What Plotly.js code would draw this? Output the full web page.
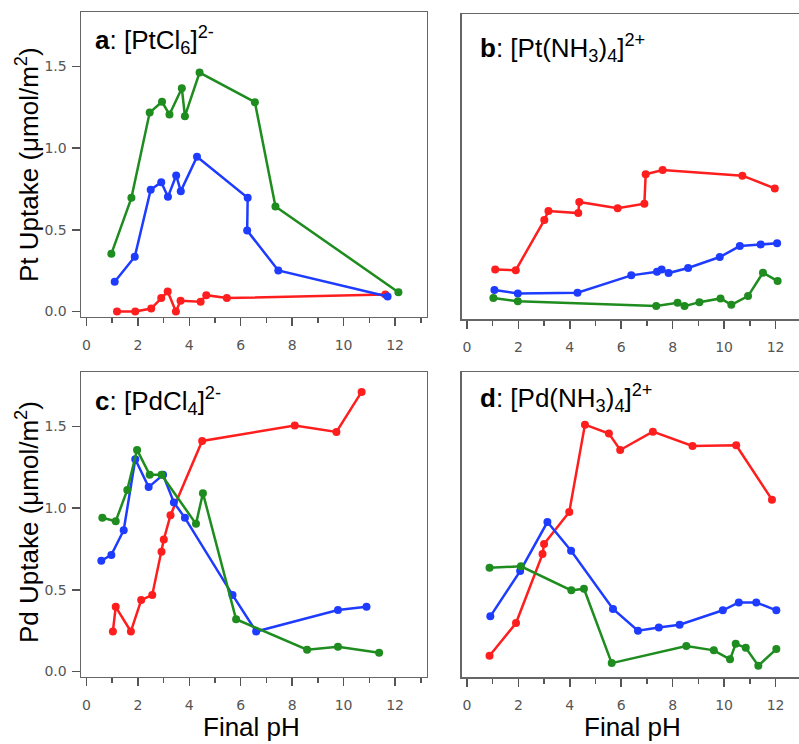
<!DOCTYPE html>
<html>
<head>
<meta charset="utf-8">
<script src="https://cdn.plot.ly/plotly-3.0.1.min.js"></script>
<style>
html, body { margin: 0; padding: 0; overflow: hidden; background: #fff; }
#chart { width: 840px; height: 744px; }
</style>
</head>
<body>
<div id="chart"></div>
<script>
// ---- Panel a: [PtCl6]2- ----
const a_green_x = [0.97, 1.75, 2.46, 2.94, 3.23, 3.71, 3.83, 4.40, 6.55, 7.35, 12.13];
const a_green_y = [0.353, 0.696, 1.218, 1.284, 1.206, 1.367, 1.196, 1.463, 1.282, 0.643, 0.118];
const a_blue_x = [1.10, 1.88, 2.50, 2.91, 3.17, 3.49, 3.67, 4.30, 6.27, 6.25, 7.46, 11.71];
const a_blue_y = [0.182, 0.335, 0.745, 0.792, 0.702, 0.833, 0.737, 0.947, 0.696, 0.496, 0.251, 0.092];
const a_red_x = [1.19, 1.90, 2.52, 2.91, 3.16, 3.48, 3.66, 4.44, 4.66, 5.46, 11.62];
const a_red_y = [0.0, 0.0, 0.018, 0.082, 0.122, 0.0, 0.065, 0.059, 0.100, 0.082, 0.104];

// ---- Panel b: [Pt(NH3)4]2+ ----
const b_red_x = [1.10, 1.90, 3.01, 3.17, 4.33, 4.37, 5.86, 6.90, 6.95, 7.61, 10.71, 11.97];
const b_red_y = [0.271, 0.267, 0.573, 0.629, 0.616, 0.684, 0.645, 0.673, 0.853, 0.880, 0.845, 0.767];
const b_blue_x = [1.07, 1.98, 4.30, 6.39, 7.39, 7.57, 7.84, 8.60, 9.83, 10.61, 11.42, 12.06];
const b_blue_y = [0.145, 0.124, 0.129, 0.235, 0.257, 0.271, 0.249, 0.280, 0.347, 0.414, 0.424, 0.431];
const b_green_x = [1.03, 1.98, 7.36, 8.19, 8.46, 9.04, 9.86, 10.28, 10.93, 11.51, 12.08];
const b_green_y = [0.096, 0.076, 0.047, 0.067, 0.047, 0.071, 0.094, 0.055, 0.108, 0.251, 0.200];

// ---- Panel c: [PdCl4]2- ----
const c_red_x = [1.03, 1.14, 1.73, 2.13, 2.56, 2.92, 3.01, 3.27, 4.50, 8.10, 9.72, 10.70];
const c_red_y = [0.245, 0.396, 0.245, 0.437, 0.469, 0.733, 0.808, 0.957, 1.412, 1.506, 1.467, 1.712];
const c_blue_x = [0.58, 0.97, 1.45, 1.90, 2.42, 2.98, 3.40, 3.83, 5.68, 6.60, 9.78, 10.89];
const c_blue_y = [0.678, 0.714, 0.865, 1.300, 1.129, 1.204, 1.035, 0.941, 0.469, 0.245, 0.376, 0.396];
const c_green_x = [0.62, 1.14, 1.59, 1.97, 2.46, 2.92, 4.26, 4.53, 5.82, 8.58, 9.78, 11.38];
const c_green_y = [0.941, 0.920, 1.112, 1.357, 1.204, 1.204, 0.904, 1.092, 0.320, 0.133, 0.151, 0.114];

// ---- Panel d: [Pd(NH3)4]2+ ----
const d_red_x = [0.88, 1.91, 2.94, 3.00, 3.98, 4.59, 5.52, 5.96, 7.23, 8.77, 10.47, 11.86];
const d_red_y = [0.098, 0.298, 0.720, 0.782, 0.978, 1.512, 1.457, 1.357, 1.469, 1.382, 1.386, 1.053];
const d_blue_x = [0.91, 2.07, 3.13, 4.05, 5.68, 6.65, 7.46, 8.27, 9.95, 10.57, 11.25, 12.03];
const d_blue_y = [0.339, 0.616, 0.916, 0.741, 0.384, 0.251, 0.271, 0.288, 0.376, 0.424, 0.424, 0.376];
const d_green_x = [0.88, 2.10, 4.06, 4.55, 5.63, 8.53, 9.60, 10.23, 10.45, 10.84, 11.33, 12.03];
const d_green_y = [0.637, 0.645, 0.498, 0.508, 0.053, 0.157, 0.131, 0.076, 0.171, 0.147, 0.037, 0.139];

const panelLabels = [
  '<b>a</b>: [PtCl<sub>6</sub>]<sup>2-</sup>',
  '<b>b</b>: [Pt(NH<sub>3</sub>)<sub>4</sub>]<sup>2+</sup>',
  '<b>c</b>: [PdCl<sub>4</sub>]<sup>2-</sup>',
  '<b>d</b>: [Pd(NH<sub>3</sub>)<sub>4</sub>]<sup>2+</sup>'
];
const yTitles = ['Pt Uptake (μmol/m<sup>2</sup>)', 'Pd Uptake (μmol/m<sup>2</sup>)'];
const xTitle = 'Final pH';

const RED = 'rgb(255,30,30)', BLUE = 'rgb(30,60,255)', GREEN = 'rgb(30,140,30)';

function tr(x, y, color, xa, ya) {
  return {x: x, y: y, xaxis: xa, yaxis: ya, type: 'scatter', mode: 'lines+markers',
    line: {color: color, width: 2.5}, marker: {color: color, size: 8}, showlegend: false, hoverinfo: 'x+y'};
}

const data = [
  tr(a_red_x, a_red_y, RED, 'x', 'y'),
  tr(a_blue_x, a_blue_y, BLUE, 'x', 'y'),
  tr(a_green_x, a_green_y, GREEN, 'x', 'y'),
  tr(b_red_x, b_red_y, RED, 'x2', 'y2'),
  tr(b_blue_x, b_blue_y, BLUE, 'x2', 'y2'),
  tr(b_green_x, b_green_y, GREEN, 'x2', 'y2'),
  tr(c_red_x, c_red_y, RED, 'x3', 'y3'),
  tr(c_blue_x, c_blue_y, BLUE, 'x3', 'y3'),
  tr(c_green_x, c_green_y, GREEN, 'x3', 'y3'),
  tr(d_red_x, d_red_y, RED, 'x4', 'y4'),
  tr(d_blue_x, d_blue_y, BLUE, 'x4', 'y4'),
  tr(d_green_x, d_green_y, GREEN, 'x4', 'y4')
];

const W = 840, H = 744;
const px = v => v / W;
const py = v => 1 - v / H;

const tickFont = {family: 'DejaVu Sans', size: 14, color: '#555'};
const XR = [-0.21, 13.23];
const YR = [-0.032, 1.834];

function xax(left, right, anchor) {
  return {domain: [px(left), px(right)], range: XR, anchor: anchor,
    showline: true, mirror: true, linecolor: '#666', linewidth: 1.5,
    showgrid: false, zeroline: false,
    ticks: 'outside', ticklen: 8, tickwidth: 1.5, tickcolor: '#555',
    tick0: 0, dtick: 2, tickfont: tickFont, ticklabelstandoff: 7,
    minor: {dtick: 1, tick0: 0, ticks: 'outside', ticklen: 5, tickwidth: 1.5, tickcolor: '#555'}};
}
function yax(top, bottom, anchor, labels) {
  return {domain: [py(bottom), py(top)], range: YR, anchor: anchor,
    showline: true, mirror: true, linecolor: '#666', linewidth: 1.5,
    showgrid: false, zeroline: false,
    ticks: labels ? 'outside' : '', ticklen: 8, tickwidth: 1.5, tickcolor: '#555',
    showticklabels: labels, tickvals: [0, 0.5, 1.0, 1.5], tickformat: '.1f',
    tickfont: tickFont, ticklabelstandoff: 2};
}

const labelFont = {family: 'Liberation Sans, Arial, sans-serif', size: 26, color: '#000'};
const titleFont = {family: 'Liberation Sans, Arial, sans-serif', size: 26, color: '#000'};

const annotations = [
  {text: panelLabels[0], x: px(93), y: py(20), xanchor: 'left', yanchor: 'top'},
  {text: panelLabels[1], x: px(478), y: py(28), xanchor: 'left', yanchor: 'top'},
  {text: panelLabels[2], x: px(93), y: py(381), xanchor: 'left', yanchor: 'top'},
  {text: panelLabels[3], x: px(478), y: py(378), xanchor: 'left', yanchor: 'top'}
].map(a => Object.assign(a, {xref: 'paper', yref: 'paper', showarrow: false, font: labelFont}));

annotations.push(
  {text: yTitles[0], x: px(27), y: py(165), textangle: -90},
  {text: yTitles[1], x: px(27), y: py(522), textangle: -90},
  {text: xTitle, x: px(251), y: py(727)},
  {text: xTitle, x: px(632), y: py(727)}
);
for (let i = 4; i < annotations.length; i++) {
  Object.assign(annotations[i], {xref: 'paper', yref: 'paper', showarrow: false,
    xanchor: 'center', yanchor: 'middle', font: titleFont});
}

const layout = {
  width: W, height: H,
  margin: {l: 0, r: 0, t: 0, b: 0},
  paper_bgcolor: '#fff', plot_bgcolor: '#fff',
  showlegend: false,
  xaxis: xax(81, 426.7, 'y'),
  yaxis: yax(12, 316.7, 'x', true),
  xaxis2: xax(461.5, 807.2, 'y2'),
  yaxis2: yax(14, 319, 'x2', false),
  xaxis3: xax(81, 426.7, 'y3'),
  yaxis3: yax(372, 676.7, 'x3', true),
  xaxis4: xax(461.5, 807.2, 'y4'),
  yaxis4: yax(372, 677, 'x4', false),
  annotations: annotations
};

Plotly.newPlot('chart', data, layout, {staticPlot: true, displayModeBar: false});
</script>
</body>
</html>
